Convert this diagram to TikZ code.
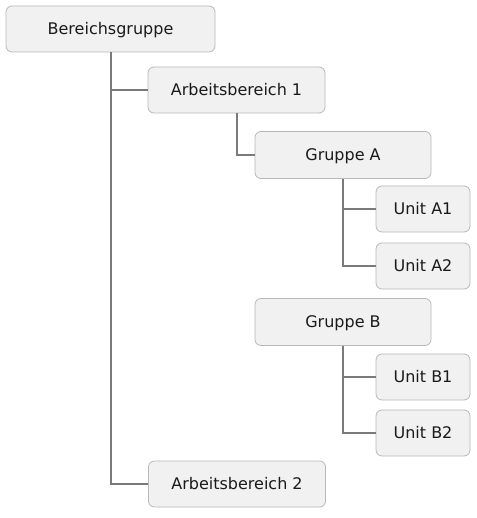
\documentclass[tikz,border=0pt]{standalone}
\usepackage{fontspec}
\setmainfont{DejaVu Sans}
\definecolor{boxline}{HTML}{B8B8B8}
\definecolor{boxfill}{HTML}{F1F1F1}
\definecolor{connline}{HTML}{7A7A7A}
\definecolor{txt}{HTML}{1A1A1A}
\begin{document}
\begin{tikzpicture}[x=1pt,y=-1pt,
  box/.style={draw=boxline, fill=boxfill, rounded corners=6pt, line width=0.8pt,
    inner sep=0pt, text=txt, font=\fontsize{16}{19}\selectfont, minimum height=46pt,
    text height=11.7pt, text depth=0pt},
  conn/.style={draw=connline, line width=2pt}]
\useasboundingbox (0,0) rectangle (476,518);
\node[box, minimum width=209pt] (bg) at (110.5,29) {Bereichsgruppe};
\node[box, minimum width=177pt] (ab1) at (236.5,90) {Arbeitsbereich 1};
\node[box, minimum width=176pt, minimum height=47pt] (ga) at (343,155) {Gruppe A};
\node[box, minimum width=94pt] (a1) at (423,209) {Unit A1};
\node[box, minimum width=94pt] (a2) at (423,266) {Unit A2};
\node[box, minimum width=176pt, minimum height=47pt] (gb) at (343,322) {Gruppe B};
\node[box, minimum width=94pt] (b1) at (423,377) {Unit B1};
\node[box, minimum width=94pt] (b2) at (423,433) {Unit B2};
\node[box, minimum width=177pt] (ab2) at (237,484) {Arbeitsbereich 2};
\draw[conn] (bg.south) |- (ab2.west);
\draw[conn] (bg.south |- ab1.west) -- (ab1.west);
\draw[conn] (ab1.south) |- (ga.west);
\draw[conn] (ga.south) |- (a2.west);
\draw[conn] (ga.south |- a1.west) -- (a1.west);
\draw[conn] (gb.south) |- (b2.west);
\draw[conn] (gb.south |- b1.west) -- (b1.west);
\end{tikzpicture}
\end{document}
